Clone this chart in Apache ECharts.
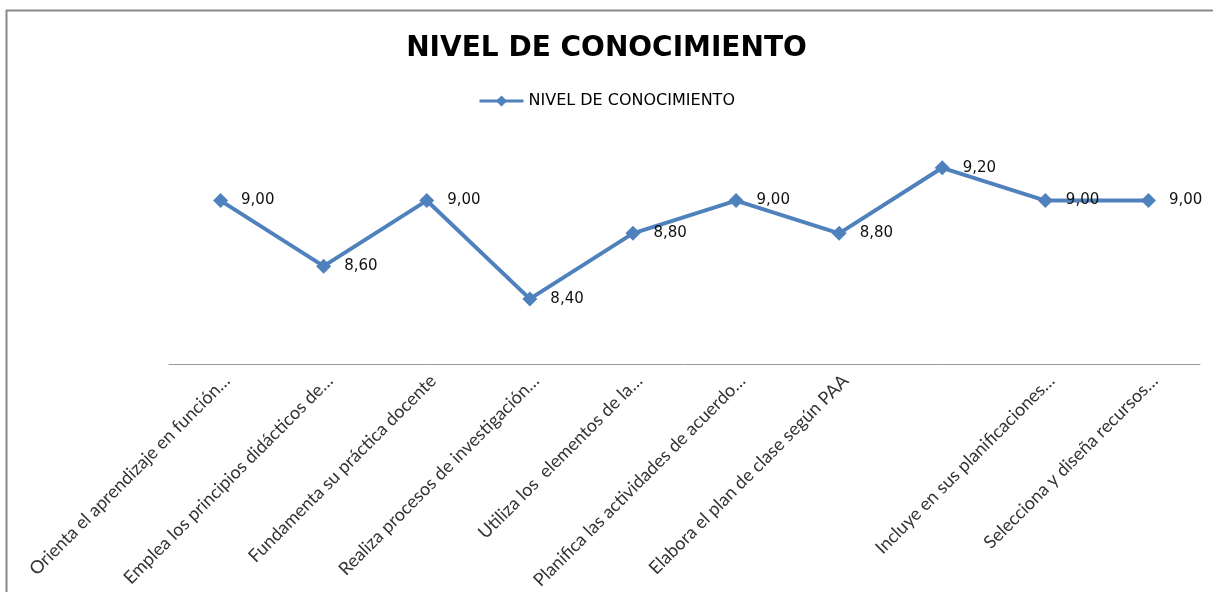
<!DOCTYPE html>
<html>
<head>
<meta charset="utf-8">
<script src="https://cdn.jsdelivr.net/npm/echarts@6/dist/echarts.min.js"></script>
<style>html,body{margin:0;padding:0;background:#fff;}#c{width:1213px;height:592px;}</style>
</head>
<body>
<div id="c"></div>
<script>
var categories = [
  "Orienta el aprendizaje en función…",
  "Emplea los principios didácticos de…",
  "Fundamenta su práctica docente",
  "Realiza procesos de investigación…",
  "Utiliza los  elementos de la…",
  "Planifica las actividades de acuerdo…",
  "Elabora el plan de clase según PAA",
  "",
  "Incluye en sus planificaciones…",
  "Selecciona y diseña recursos…"
];
var seriesName = "NIVEL DE CONOCIMIENTO";
var values = [9.00, 8.60, 9.00, 8.40, 8.80, 9.00, 8.80, 9.20, 9.00, 9.00];
var yMin = 8.0, yMax = 9.4, yStep = 0.2;

var chart = echarts.init(document.getElementById('c'), null, {renderer: 'canvas'});
chart.setOption({
  backgroundColor: '#ffffff',
  animation: false,
  title: {
    text: "NIVEL DE CONOCIMIENTO",
    left: 'center',
    top: 30,
    textStyle: {fontFamily: 'DejaVu Sans', fontWeight: 'bold', fontSize: 28, color: '#000'}
  },
  legend: {
    data: [seriesName],
    top: 88,
    left: 'center',
    itemWidth: 44,
    itemHeight: 14,
    itemGap: 4,
    lineStyle: {width: 3},
    textStyle: {fontFamily: 'DejaVu Sans', fontSize: 16, color: '#000'}
  },
  graphic: [{
    type: 'rect',
    shape: {x: 6.5, y: 10.5, width: 1300, height: 700},
    style: {fill: 'none', stroke: '#8a8a8a', lineWidth: 2},
    silent: true
  }],
  grid: {left: 169, right: 13, top: 135, bottom: 224, containLabel: false},
  xAxis: {
    type: 'category',
    data: categories,
    boundaryGap: true,
    axisLine: {lineStyle: {color: '#999', width: 1}},
    axisTick: {show: false},
    axisLabel: {
      rotate: 45,
      interval: 0,
      margin: 7,
      verticalAlign: 'top',
      fontFamily: 'Lato',
      fontSize: 18,
      color: '#333'
    }
  },
  yAxis: {
    type: 'value',
    min: yMin, max: yMax, interval: yStep,
    show: false,
    splitLine: {show: false}
  },
  series: [{
    name: seriesName,
    type: 'line',
    data: values,
    symbol: 'diamond',
    symbolSize: 15,
    lineStyle: {color: '#4F81BD', width: 4},
    itemStyle: {color: '#4F81BD'},
    label: {
      show: true,
      position: 'right',
      distance: 13,
      formatter: function (p) { return p.value.toFixed(2).replace('.', ','); },
      fontFamily: 'DejaVu Sans',
      fontSize: 15,
      color: '#111'
    }
  }]
});
</script>
</body>
</html>
